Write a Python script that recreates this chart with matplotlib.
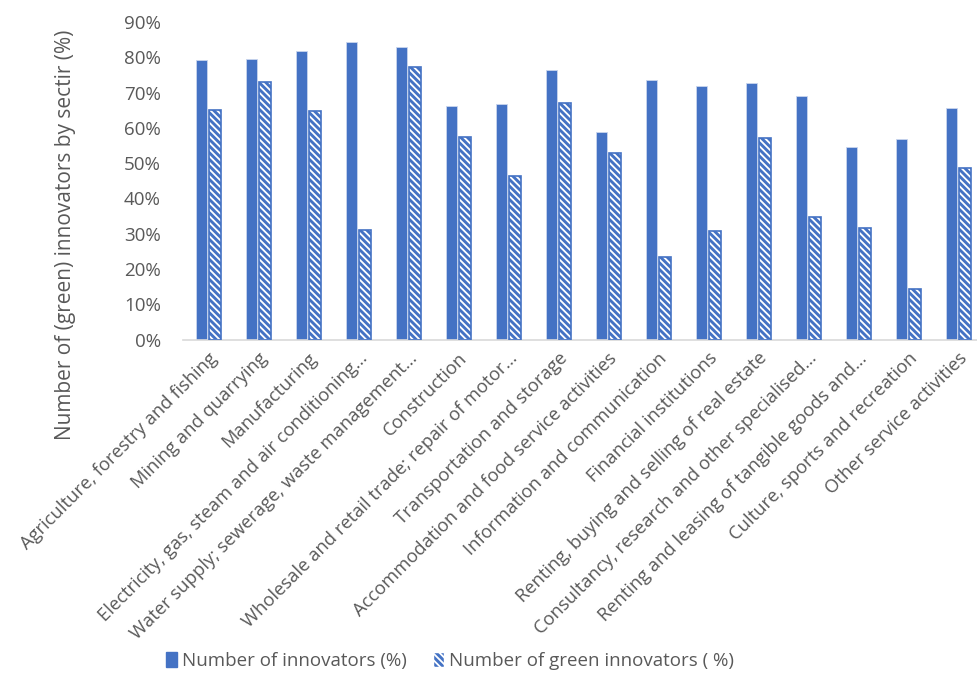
import matplotlib
matplotlib.use("Agg")
import matplotlib.pyplot as plt
import numpy as np
from matplotlib.patches import Patch

categories = [
    "Agriculture, forestry and fishing",
    "Mining and quarrying",
    "Manufacturing",
    "Electricity, gas, steam and air conditioning…",
    "Water supply; sewerage, waste management…",
    "Construction",
    "Wholesale and retail trade; repair of motor…",
    "Transportation and storage",
    "Accommodation and food service activities",
    "Information and communication",
    "Financial institutions",
    "Renting, buying and selling of real estate",
    "Consultancy, research and other specialised…",
    "Renting and leasing of tangible goods and…",
    "Culture, sports and recreation",
    "Other service activities",
]
innovators = [79.1, 79.4, 81.9, 84.2, 82.9, 66.3, 66.7, 76.4, 58.7,
              73.5, 71.9, 72.6, 69.0, 54.5, 56.7, 65.5]
green_innovators = [65.1, 73.1, 64.7, 30.9, 77.3, 57.4, 46.4, 67.0, 52.8,
                    23.5, 30.8, 57.0, 34.7, 31.5, 14.4, 48.6]
yticks = [0, 10, 20, 30, 40, 50, 60, 70, 80, 90]
series_names = ["Number of innovators (%)", "Number of green innovators ( %)"]

BLUE = "#4472C4"
GREY = "#595959"
plt.rcParams['font.family'] = ['Open Sans', 'DejaVu Sans']
plt.rcParams['hatch.linewidth'] = 1.3

fig = plt.figure(figsize=(9.77, 6.86), dpi=100)
ax = fig.add_axes([183/977, 1 - 339.5/686, 800/977, (339.5 - 22)/686])

x = np.arange(len(categories))
w = 0.23
off = 0.135
ax.bar(x - off, innovators, w, color=BLUE, edgecolor="#c9d5ee", linewidth=0.6, zorder=2)
ax.bar(x + off, green_innovators, w, color=BLUE, edgecolor="white", hatch="\\\\\\\\\\", linewidth=0, zorder=2)
ax.bar(x + off, green_innovators, w, fill=False, edgecolor=BLUE, linewidth=1.2, zorder=3)

ax.set_xlim(-0.5, len(categories) - 0.5)
ax.set_ylim(0, 90)
ax.set_yticks(yticks)
ax.set_yticklabels([f"{v}%" for v in yticks], fontsize=13.5, color=GREY)
ax.set_xticks(x)
ax.set_xticklabels(categories, rotation=45, ha="right", rotation_mode="anchor",
                   fontsize=13.2, color=GREY)
ax.tick_params(axis="both", length=0)
ax.tick_params(axis="x", pad=7)
ax.tick_params(axis="y", pad=16)
for s in ["top", "right", "left"]:
    ax.spines[s].set_visible(False)
ax.spines["bottom"].set_color("#d9d9d9")
ax.spines["bottom"].set_linewidth(1.2)

ax.set_ylabel("Number of (green) innovators by sectir (%)", fontsize=15, color=GREY)
ax.yaxis.set_label_coords(-0.134, 0.33)

handles = [Patch(facecolor=BLUE, edgecolor=BLUE),
           Patch(facecolor=BLUE, edgecolor="white", hatch="\\\\\\\\\\")]
lx = [158 / 977, 425 / 977]
for h, name, xpos in zip(handles, series_names, lx):
    fig.legend([h], [name], loc="center left", bbox_to_anchor=(xpos, 1 - 661/686),
               frameon=False, fontsize=13.5, labelcolor=GREY, borderaxespad=0,
               handlelength=0.6, handleheight=0.9, handletextpad=0.3)

fig.savefig("out.png", dpi=100)
